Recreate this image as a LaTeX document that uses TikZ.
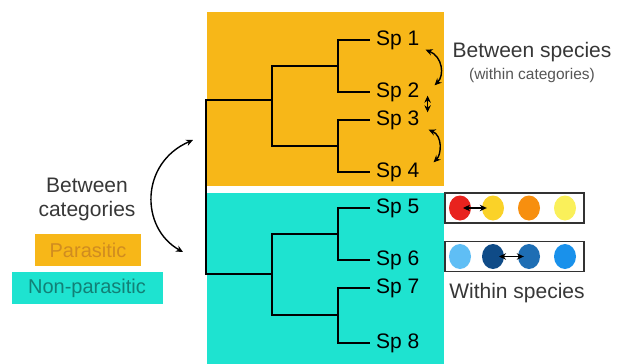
\documentclass[tikz,border=0pt]{standalone}
\usepackage{fontspec}
\setmainfont{Liberation Sans}
\usetikzlibrary{calc, arrows.meta, shapes.geometric}

\definecolor{parasite}{RGB}{247,183,24}
\definecolor{nonparasite}{RGB}{30,227,208}
\definecolor{parasitetext}{RGB}{208,140,32}
\definecolor{nonparasitetext}{RGB}{18,128,118}
\definecolor{textgray}{RGB}{55,55,55}
\definecolor{boxgray}{RGB}{50,50,50}
\definecolor{redA}{RGB}{232,35,30}
\definecolor{yellowA}{RGB}{250,210,40}
\definecolor{orangeA}{RGB}{247,143,15}
\definecolor{paleA}{RGB}{250,240,90}
\definecolor{skyB}{RGB}{95,190,245}
\definecolor{navyB}{RGB}{15,75,135}
\definecolor{midB}{RGB}{30,110,180}
\definecolor{blueB}{RGB}{25,145,235}

\begin{document}
\begin{tikzpicture}
    [x=1pt, y=-1pt,
    spnode/.style={anchor=west, inner xsep=6pt, inner ysep=0pt, text=black, font=\fontsize{21}{24}\selectfont},
    tree/.style={line width=1.3pt, black},
    link/.style={line width=1.4pt, arrows={Stealth[length=7pt,width=6.5pt]-Stealth[length=7pt,width=6.5pt]}},
    dot/.style={ellipse, minimum width=22pt, minimum height=25pt, inner sep=0pt},
    rowbox/.style={draw=boxgray, line width=1.6pt, minimum width=139pt, minimum height=30pt, inner sep=0pt},
    catbox/.style={minimum height=32pt, inner sep=0pt, font=\fontsize{20}{24}\selectfont},
    blurb/.style={text=textgray, align=center, inner sep=0pt, font=\fontsize{21}{24}\selectfont}]

    \useasboundingbox (0,0) rectangle (625,364);

    %Backgrounds
    \fill[parasite] (207,12) rectangle (444,186);
    \fill[nonparasite] (207,193) rectangle (444,364);

    %Species
    \node[spnode](sp1) at (370,40){Sp 1};
    \node[spnode](sp2) at (370,92){Sp 2};
    \node[spnode](sp3) at (370,120){Sp 3};
    \node[spnode](sp4) at (370,172){Sp 4};
    \node[spnode](sp5) at (370,208){Sp 5};
    \node[spnode](sp6) at (370,260){Sp 6};
    \node[spnode](sp7) at (370,288){Sp 7};
    \node[spnode](sp8) at (370,343){Sp 8};

    %Inner nodes
    \coordinate (root) at (206,187);
    \coordinate (cA) at (272,100);
    \coordinate (cB) at (272,274);
    \coordinate (c12) at (338,66);
    \coordinate (c34) at (338,146);
    \coordinate (c56) at (338,234);
    \coordinate (c78) at (338,315);

    %Tree
    \draw[tree](root) |- (cA);
    \draw[tree](root) |- (cB);
    \draw[tree](cA) |- (c12);
    \draw[tree](cA) |- (c34);
    \draw[tree](cB) |- (c56);
    \draw[tree](cB) |- (c78);
    \draw[tree](c12) |- (sp1.west);
    \draw[tree](c12) |- (sp2.west);
    \draw[tree](c34) |- (sp3.west);
    \draw[tree](c34) |- (sp4.west);
    \draw[tree](c56) |- (sp5.west);
    \draw[tree](c56) |- (sp6.west);
    \draw[tree](c78) |- (sp7.west);
    \draw[tree](c78) |- (sp8.west);

    %Between species
    \draw[link](sp1.south east) .. controls +(17,7) and +(10,-10) .. ([xshift=9pt,yshift=-3pt]sp2.north east);
    \draw[link]([xshift=2pt,yshift=6pt]sp2.south east) -- ([xshift=2pt,yshift=-2pt]sp3.north east);
    \draw[link]([xshift=3pt]sp3.south east) .. controls +(14,6) and +(8,-8) .. ([xshift=8pt]sp4.north east);
    \node[blurb](bs) at (532,52){Between species};
    \node[blurb, font=\fontsize{15.5}{18}\selectfont, text=textgray!85](wc) at (532,75){(within categories)};

    %Between categories
    \node[blurb](bc) at (87,199){Between\\categories};
    \node[catbox, fill=parasite, text=parasitetext, minimum width=106pt](par) at (88,250){Parasitic};
    \node[catbox, fill=nonparasite, text=nonparasitetext, minimum width=151pt](nonpar) at (87,288){Non-parasitic};
    \coordinate (catTop) at (193,140);
    \coordinate (catBot) at (183,252);
    \draw[link](catTop) .. controls (140,163) and (140,228) .. (catBot);

    %Within species
    \node[rowbox](rowA) at (514.5,208){};
    \node[rowbox](rowB) at (514.5,256.5){};
    \node[dot, fill=redA](a1) at (460,208){};
    \node[dot, fill=yellowA](a2) at (493,208){};
    \node[dot, fill=orangeA](a3) at (529,208){};
    \node[dot, fill=paleA](a4) at (565,208){};
    \node[dot, fill=skyB](b1) at (460,256.5){};
    \node[dot, fill=navyB](b2) at (493,256.5){};
    \node[dot, fill=midB](b3) at (529,256.5){};
    \node[dot, fill=blueB](b4) at (565,256.5){};
    \draw[link]([xshift=3pt]a1.center) -- ([xshift=5pt]a2.west);
    \draw[link]([xshift=6pt]b2.center) -- ([xshift=6pt]b3.west);
    \node[blurb](ws) at (517,293){Within species};
\end{tikzpicture}
\end{document}
